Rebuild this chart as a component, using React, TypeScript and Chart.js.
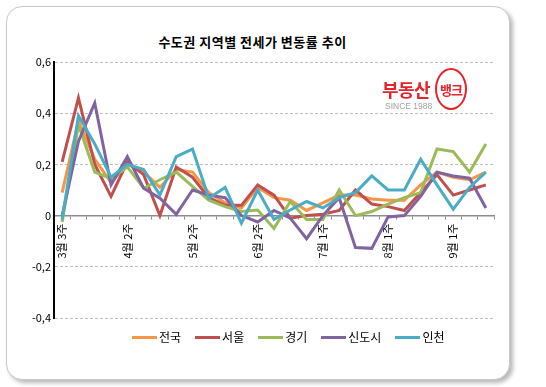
import React, { useEffect, useRef } from "react";
import { Chart, registerables } from "chart.js";

Chart.register(...registerables);

const categories = [
  "3월 3주", "3월 4주", "3월 5주", "4월 1주", "4월 2주", "4월 3주", "4월 4주",
  "5월 1주", "5월 2주", "5월 3주", "5월 4주", "6월 1주", "6월 2주", "6월 3주",
  "6월 4주", "6월 5주", "7월 1주", "7월 2주", "7월 3주", "7월 4주", "8월 1주",
  "8월 2주", "8월 3주", "8월 4주", "9월 1주", "9월 2주", "9월 3주",
];

const nationwide = [
  0.09, 0.37, 0.22, 0.13, 0.2, 0.17, 0.11, 0.18, 0.17, 0.09, 0.05, 0.03, 0.11, 0.07,
  0.06, 0.02, 0.05, 0.08, 0.08, 0.065, 0.06, 0.06, 0.12, 0.17, 0.15, 0.14, 0.17,
];
const seoul = [
  0.21, 0.46, 0.2, 0.075, 0.21, 0.16, 0.0, 0.19, 0.15, 0.07, 0.04, 0.04, 0.12, 0.08,
  -0.01, 0.0, 0.005, 0.02, 0.1, 0.045, 0.035, 0.02, 0.09, 0.16, 0.08, 0.1, 0.12,
];
const gyeonggi = [
  -0.025, 0.355, 0.17, 0.145, 0.19, 0.107, 0.14, 0.17, 0.114, 0.06, 0.035, 0.016, 0.022, -0.05,
  0.055, -0.015, -0.015, 0.1, 0.0, 0.016, 0.045, 0.07, 0.09, 0.26, 0.25, 0.17, 0.28,
];
const newTowns = [
  0.0, 0.29, 0.44, 0.12, 0.23, 0.107, 0.068, 0.005, 0.1, 0.08, 0.07, 0.0, -0.025, 0.02,
  -0.01, -0.09, 0.0, 0.07, -0.125, -0.128, -0.005, 0.0, 0.075, 0.17, 0.155, 0.146, 0.03,
];
const incheon = [
  -0.015, 0.39, 0.28, 0.15, 0.2, 0.18, 0.08, 0.23, 0.26, 0.068, 0.11, -0.03, 0.1, -0.015,
  0.022, 0.055, 0.03, 0.07, 0.09, 0.155, 0.1, 0.1, 0.22, 0.12, 0.025, 0.11, 0.17,
];

const seriesNames = ["전국", "서울", "경기", "신도시", "인천"];
const seriesColors = ["#F79646", "#C0504D", "#9BBB59", "#8064A2", "#4BACC6"];
const seriesData = [nationwide, seoul, gyeonggi, newTowns, incheon];

const FONT = '"Noto Sans CJK KR", "Noto Sans", sans-serif';

export default function App() {
  const ref = useRef<HTMLCanvasElement>(null);

  useEffect(() => {
    if (!ref.current) return;
    const chart = new Chart(ref.current, {
      type: "line",
      data: {
        labels: categories,
        datasets: seriesNames.map((name, i) => ({
          label: name,
          data: seriesData[i],
          borderColor: seriesColors[i],
          backgroundColor: seriesColors[i],
          borderWidth: 3,
          pointRadius: 0,
          tension: 0,
          fill: false,
          order: seriesNames.length - i,
        })),
      },
      options: {
        responsive: false,
        animation: false,
        events: [],
        layout: { padding: { left: 0, right: 52, top: 62, bottom: 69 } },
        plugins: {
          legend: { display: false },
          title: { display: false },
          tooltip: { enabled: false },
        },
        scales: {
          x: {
            type: "category",
            position: { y: 0 } as any,
            offset: true,
            afterFit: (scale: any) => {
              scale.height = 0;
            },
            grid: {
              display: true,
              drawOnChartArea: false,
              drawTicks: true,
              tickLength: 3,
              tickColor: "#8C8C8C",
              offset: true,
            },
            border: { display: true, color: "#8C8C8C", width: 1.5 },
            ticks: {
              autoSkip: false,
              minRotation: 90,
              maxRotation: 90,
              padding: 5,
              color: "#000",
              font: { family: FONT, size: 11 },
              callback: (_v: any, index: number) => (index % 4 === 0 ? categories[index] : ""),
            },
          },
          y: {
            min: -0.4,
            max: 0.6,
            afterFit: (scale: any) => {
              scale.width = 54;
            },
            grid: {
              drawTicks: false,
              color: (ctx: any) =>
                Math.abs(ctx.tick.value) < 1e-9 ? "rgba(0,0,0,0)" : "#BDBDBD",
              lineWidth: 1,
            },
            border: { display: true, color: "#000", width: 2, dash: [3, 2] },
            ticks: {
              stepSize: 0.2,
              padding: 3,
              color: "#000",
              font: { family: FONT, size: 11 },
              callback: (v: any) => {
                const n = Number(v);
                if (Math.abs(n) < 1e-9) return "0";
                return n.toFixed(1).replace(".", ",");
              },
            },
          },
        },
      },
    });
    return () => chart.destroy();
  }, []);

  return (
    <div
      style={{
        position: "absolute",
        left: 0,
        top: 0,
        width: 546,
        height: 387,
        overflow: "hidden",
        background: "#fff",
        fontFamily: FONT,
      }}
    >
      <div
        style={{
          position: "absolute",
          left: 6,
          top: 6,
          width: 502,
          height: 372,
          border: "1px solid #C9C9C9",
          borderRadius: 16,
          boxShadow: "3px 3px 4px rgba(0,0,0,0.28)",
          background: "#fff",
        }}
      />
      <div
        style={{
          position: "absolute",
          left: 0,
          width: 505,
          top: 33,
          textAlign: "center",
          fontSize: 13,
          fontWeight: "bold",
          color: "#000",
          lineHeight: "18px",
          letterSpacing: 0.5,
        }}
      >
        수도권 지역별 전세가 변동률 추이
      </div>
      <canvas
        ref={ref}
        width={546}
        height={387}
        style={{ position: "absolute", left: 0, top: 0, width: 546, height: 387 }}
      />
      {/* logo */}
      <div
        style={{
          position: "absolute",
          left: 382,
          top: 78,
          fontSize: 18,
          fontWeight: "bold",
          color: "#E3242B",
          lineHeight: "22px",
          letterSpacing: -0.5,
        }}
      >
        부동산
      </div>
      <div
        style={{
          position: "absolute",
          left: 385,
          top: 101,
          fontSize: 8.5,
          color: "#A0A0A0",
          fontFamily: '"Liberation Sans", Arial, sans-serif',
          lineHeight: "11px",
        }}
      >
        SINCE 1988
      </div>
      <div
        style={{
          position: "absolute",
          left: 435,
          top: 68,
          width: 28,
          height: 38,
          border: "2px solid #E3242B",
          borderRadius: "50%",
          background: "#fff",
          display: "flex",
          alignItems: "center",
          justifyContent: "center",
          fontSize: 13,
          fontWeight: "bold",
          color: "#E3242B",
          letterSpacing: -1,
        }}
      >
        뱅크
      </div>
      {/* legend */}
      <div
        style={{
          position: "absolute",
          left: 132,
          top: 329,
          display: "flex",
          alignItems: "center",
          gap: 14,
          fontSize: 12,
          lineHeight: "16px",
          color: "#000",
        }}
      >
        {seriesNames.map((name, i) => (
          <div key={name} style={{ display: "flex", alignItems: "center" }}>
            <span
              style={{
                display: "inline-block",
                width: 25,
                height: 3,
                background: seriesColors[i],
                marginRight: 2,
              }}
            />
            <span>{name}</span>
          </div>
        ))}
      </div>
    </div>
  );
}
